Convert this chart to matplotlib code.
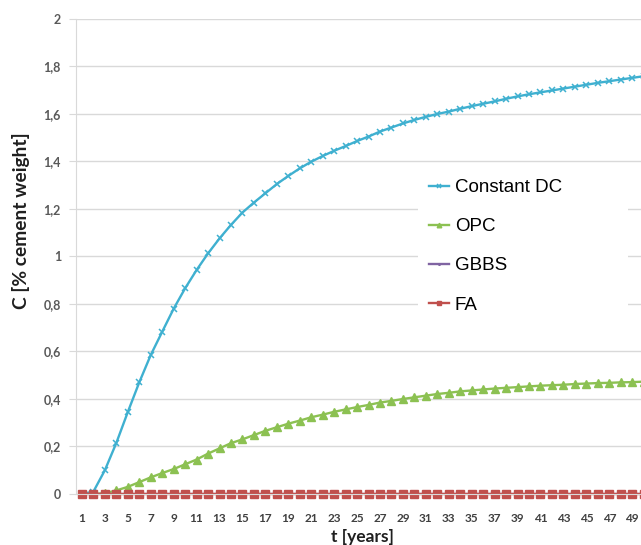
import matplotlib
matplotlib.use("Agg")
import matplotlib.pyplot as plt
import numpy as np

# time axis (years) and concentration series
t = np.arange(1, 51)

constant_dc = [0.0, 0.01, 0.10, 0.215, 0.345, 0.47, 0.585, 0.683, 0.78, 0.866,
               0.943, 1.013, 1.076, 1.133, 1.185, 1.227, 1.266, 1.305, 1.339, 1.371,
               1.399, 1.423, 1.445, 1.465, 1.486, 1.505, 1.526, 1.543, 1.56, 1.575,
               1.588, 1.60, 1.61, 1.622, 1.633, 1.643, 1.653, 1.664, 1.674, 1.683,
               1.691, 1.699, 1.707, 1.715, 1.723, 1.731, 1.738, 1.745, 1.752, 1.759]

opc = [0.0, 0.0, 0.003, 0.015, 0.03, 0.05, 0.07, 0.088, 0.105, 0.125,
       0.145, 0.17, 0.192, 0.214, 0.23, 0.248, 0.266, 0.281, 0.296, 0.309,
       0.323, 0.334, 0.346, 0.356, 0.366, 0.375, 0.385, 0.392, 0.40, 0.407,
       0.414, 0.421, 0.426, 0.432, 0.436, 0.44, 0.444, 0.447, 0.45, 0.453,
       0.456, 0.458, 0.46, 0.463, 0.465, 0.467, 0.468, 0.47, 0.471, 0.473]

gbbs = [0.0] * 50
fa = [0.0] * 50

labels = ["Constant DC", "OPC", "GBBS", "FA"]
x_ticks = list(range(1, 50, 2))
y_ticks = [0, 0.2, 0.4, 0.6, 0.8, 1, 1.2, 1.4, 1.6, 1.8, 2]

fig = plt.figure(figsize=(6.41, 5.45), dpi=100)
ax = fig.add_axes([0.1189, 0.0936, 0.8942, 0.8716])

ax.plot(t, constant_dc, color="#3fb0d0", lw=1.7, marker="x", ms=3.8, mew=1.1,
        label=labels[0])
ax.plot(t, opc, color="#8cc152", lw=1.7, marker="^", ms=5.5, label=labels[1])
ax.plot(t, gbbs, color="#8064a2", lw=1.7, marker="o", ms=2, label=labels[2])
ax.plot(t, fa, color="#c0504d", lw=1.7, marker="s", ms=6, label=labels[3],
        clip_on=False)

ax.set_xlim(0.5, 50.5)
ax.set_ylim(0, 2)
ax.set_xticks(x_ticks)
ax.set_yticks(y_ticks)
ax.set_yticklabels([f"{v:g}".replace(".", ",") for v in y_ticks])

ax.grid(axis="y", color="#d9d9d9", lw=1)
ax.set_axisbelow(True)
for s in ["top", "right"]:
    ax.spines[s].set_visible(False)
ax.spines["left"].set_color("#d9d9d9")
ax.spines["bottom"].set_color("#d9d9d9")

ax.tick_params(axis="y", length=5, color="#d9d9d9", pad=6, labelcolor="#595959",
               labelsize=9)
ax.tick_params(axis="x", length=0, pad=14, labelcolor="#404040", labelsize=8.5)
for lab in ax.get_xticklabels() + ax.get_yticklabels():
    lab.set_fontfamily("Lato")
    lab.set_fontweight("bold")

fig.text(21 / 641, 1 - 221 / 545, "C [% cement weight]", rotation=90,
         ha="center", va="center", fontsize=13.8, fontweight="bold",
         family="Lato", color="#1f1f1f")
fig.text(362 / 641, 1 - 537 / 545, "t [years]", ha="center", va="center",
         fontsize=12.5, fontweight="bold", family="Lato", color="#1f1f1f")

leg = fig.legend(loc="upper left", bbox_to_anchor=(409 / 641, 1 - 165 / 545, 228 / 641, 0.01),
                 mode="expand", frameon=True, facecolor="white", edgecolor="none",
                 framealpha=1, fancybox=False, borderpad=0.55, labelspacing=1.17,
                 handlelength=1.1, handletextpad=0.3, numpoints=1, markerscale=0.6,
                 prop={"family": "Liberation Sans", "size": 13.5})

fig.savefig("out.png", dpi=100)
